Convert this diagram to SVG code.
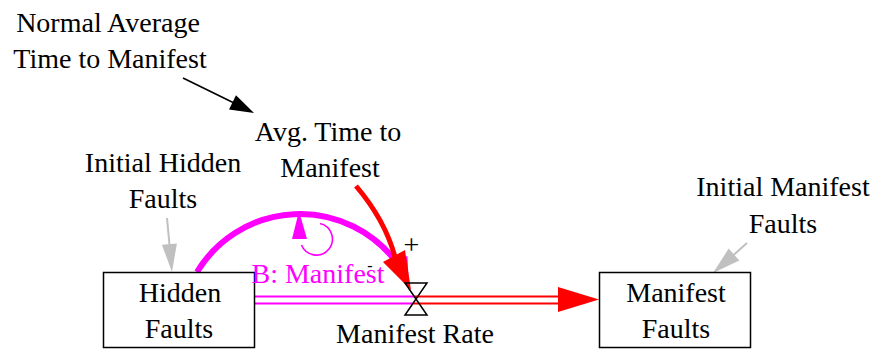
<svg xmlns="http://www.w3.org/2000/svg" width="873" height="352" viewBox="0 0 873 352">
<style>
.t{font-size:28px;fill:#000;text-anchor:middle}
.box{fill:#fff;stroke:#000;stroke-width:1.5}
.mag{fill:#ff00ff}
.red{fill:#ff0000}
</style>
<rect width="873" height="352" fill="#fff"/>
<g id="connectors">
  <line x1="255" y1="296.5" x2="414" y2="296.5" stroke="#ff00ff" stroke-width="2"/>
  <line x1="255" y1="303.5" x2="414" y2="303.5" stroke="#ff00ff" stroke-width="2"/>
  <line x1="414" y1="296.5" x2="560" y2="296.5" stroke="#ff0000" stroke-width="2"/>
  <line x1="414" y1="303.5" x2="560" y2="303.5" stroke="#ff0000" stroke-width="2"/>
  <polygon class="red" points="599,299.5 558,287 558,312"/>
  <line x1="183" y1="78" x2="233" y2="102.5" stroke="#000" stroke-width="1.6"/>
  <polygon fill="#000" points="254,113 229,109.6 236,95.3"/>
  <line x1="167" y1="218" x2="169.5" y2="245" stroke="#c0c0c0" stroke-width="2"/>
  <polygon fill="#c0c0c0" points="172,272 161.9,244.8 176.9,243.4"/>
  <line x1="747" y1="243" x2="733" y2="255.5" stroke="#c0c0c0" stroke-width="2"/>
  <polygon fill="#c0c0c0" points="713,273 728.7,248.5 739.3,260.5"/>
  <path d="M197,272 A120.5,120.5 0 0 1 395.9,261.5" fill="none" stroke="#ff00ff" stroke-width="6"/>
  <polygon class="mag" points="409,288 387.2,264.7 407.4,256.1"/>
  <path d="M320,223.5 A16,16 0 1 1 301.5,245" fill="none" stroke="#ff00ff" stroke-width="1.6"/>
  <polygon class="mag" points="299,211 292,239 307,239"/>
  <path d="M356,186 Q385,220 395,257" fill="none" stroke="#ff0000" stroke-width="5"/>
  <polygon class="red" points="411,290 383,262 405,250"/>
</g>
<g font-family="Liberation Serif, Times New Roman, DejaVu Serif, serif">
<g id="valve">
  <path d="M405,283 H427 L405,315 H427 Z" fill="none" stroke="#000" stroke-width="1.5"/>
  <text class="t" x="415" y="343">Manifest Rate</text>
</g>
<g id="hidden-faults">
  <rect class="box" x="103.5" y="272.5" width="151" height="75"/>
  <text class="t" x="180" y="302">Hidden</text>
  <text class="t" x="179" y="338">Faults</text>
</g>
<g id="manifest-faults">
  <rect class="box" x="599.5" y="272.5" width="151" height="75"/>
  <text class="t" x="676" y="302">Manifest</text>
  <text class="t" x="676" y="338">Faults</text>
</g>
<g id="normal-average">
  <text class="t" x="108" y="32">Normal Average</text>
  <text class="t" x="110" y="68">Time to Manifest</text>
</g>
<g id="avg-time">
  <text class="t" x="328" y="141">Avg. Time to</text>
  <text class="t" x="330" y="177">Manifest</text>
</g>
<g id="initial-hidden">
  <text class="t" x="163" y="172">Initial Hidden</text>
  <text class="t" x="163" y="208">Faults</text>
</g>
<g id="initial-manifest">
  <text class="t" x="783" y="196">Initial Manifest</text>
  <text class="t" x="783" y="233">Faults</text>
</g>
<g id="loop-label">
  <text class="t" x="318" y="283" style="fill:#ff00ff">B: Manifest</text>
</g>
<g id="polarity">
  <text class="t" x="411.5" y="254">+</text>
  <text class="t" x="370" y="271" style="font-size:16px">-</text>
</g>
</g>
</svg>
